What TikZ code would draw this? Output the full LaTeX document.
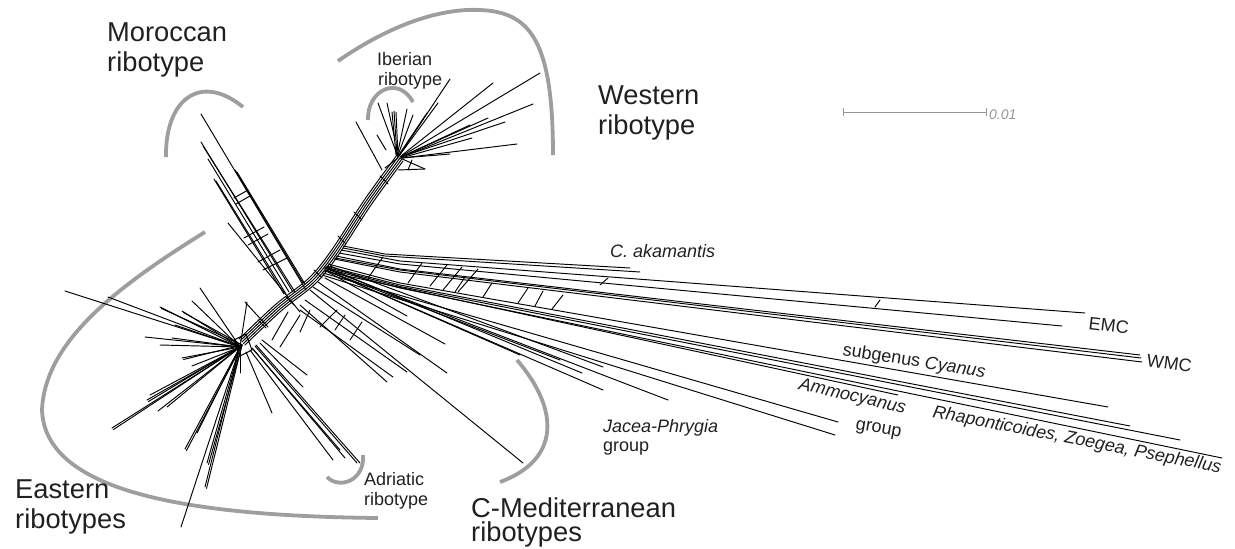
\documentclass[tikz,border=0pt]{standalone}
\usepackage{fontspec}
\setmainfont{Liberation Sans}
\definecolor{arcgray}{RGB}{158,158,160}
\definecolor{txt}{RGB}{35,31,32}
\definecolor{scalegray}{RGB}{150,150,150}
\begin{document}
\begin{tikzpicture}[x=1pt,y=-1pt,
  net/.style={line width=0.95pt,line cap=round},
  grayarc/.style={arcgray,line width=3.8pt},
  big/.style={font=\fontsize{27.3}{30}\selectfont,text=txt,inner sep=0pt,anchor=base west},
  small/.style={font=\fontsize{18}{20}\selectfont,text=txt,inner sep=0pt,anchor=base west}]
\useasboundingbox (0,0) rectangle (1235,549);

% ---------- grey arcs ----------
\draw[grayarc] (166,157) .. controls (165,100) and (200,72) .. (243,107);
\draw[grayarc] (338,61) .. controls (390,25) and (440,8) .. (480,10) .. controls (530,12) and (553,40) .. (553,155);
\draw[grayarc] (368,120) .. controls (367,90) and (398,75) .. (413,102);
\draw[grayarc] (205,232) .. controls (120,285) and (45,340) .. (42,410) .. controls (45,490) and (180,516) .. (378,518);
\draw[grayarc] (327,477) .. controls (340,490) and (365,480) .. (363,455);
\draw[grayarc] (517,360) .. controls (560,410) and (560,460) .. (500,482);

% ---------- central band (Eastern hub to Western hub) ----------
\foreach \k in {-3,-1.5,0,1.5,3}{
  \begin{scope}[shift={(\k,\k)}]
    \draw[net] plot[smooth] coordinates {(242,342) (278,308) (312,281) (334,254) (368,202) (400,158)};
  \end{scope}}
\foreach \p/\q in {262/324,290/301,318/274,342/240,358/216,384/180}
  \draw[net] (\p-4,\q-4) -- (\p+4,\q+4);

% ---------- Moroccan band ----------
\foreach \a/\b/\c/\d in {201/114/306/290, 201/142/293/292, 203/146/295/292, 208/159/289/292,
  214/179/284/294, 216/181/286/294, 235/170/303/283, 237/172/305/284, 228/223/300/312, 245/302/268/327}
  \draw[net] (\a,\b) -- (\c,\d);
\foreach \a/\b/\c/\d in {234/198/248/190, 236/204/250/196, 244/238/264/227, 248/245/268/234,
  258/262/280/250, 263/270/287/258, 272/340/288/312, 280/347/300/315}
  \draw[net] (\a,\b) -- (\c,\d);

% ---------- Western fan ----------
\foreach \a/\b/\c/\d in {400/157/540/73, 401/156/493/83, 402/157/533/104, 402/158/517/144,
  401/157/488/118, 401/158/472/138, 402/158/450/154, 399/156/450/79, 399/156/438/103,
  398/156/427/113, 398/155/413/115, 397/156/407/109, 396/155/392/112, 397/155/394/111,
  398/156/396/112, 398/157/378/103, 400/158/425/169, 401/157/505/122, 401/157/470/125,
  382/170/356/122, 386/150/377/135, 395/140/387/103, 398/170/425/169, 412/160/408/170,
  385/168/398/158}
  \draw[net] (\a,\b) -- (\c,\d);

% ---------- Eastern rays ----------
\foreach \c/\d in {65/291,108/297,160/307,182/311,192/301,200/288,145/337,172/338,182/358,
  192/366,147/400,158/411,167/407,112/428,185/449,207/463,205/487,181/527,247/302,240/373,
  197/433,175/325,160/345,150/395}
  \draw[net] (240,347) -- (\c,\d);
\foreach \c/\d in {160/307,182/311,182/358,147/400,185/449,207/463,205/487,112/428}
  \draw[net] (242,345) -- (\c+1.5,\d+1.5);
\draw[net] (234,340) -- (246,334) -- (252,350) -- (240,356) -- cycle;

% ---------- Adriatic bundle and lower-left branches ----------
\foreach \a/\b/\c/\d in {250/350/333/460, 252/348/340/450, 255/346/357/463, 256/345/360/463,
  253/349/345/458, 246/352/272/413, 262/340/307/375, 260/343/303/387}
  \draw[net] (\a,\b) -- (\c,\d);

% ---------- lower-right branches from the junction ----------
\foreach \a/\b/\c/\d in {313/287/420/355, 300/310/393/377, 305/300/407/372, 310/290/523/463,
  300/305/387/382, 318/282/447/373, 325/278/445/344, 328/272/407/316}
  \draw[net] (\a,\b) -- (\c,\d);
\foreach \a/\b/\c/\d in {300/332/310/310, 320/327/337/310, 335/330/345/315, 350/340/362/322}
  \draw[net] (\a,\b) -- (\c,\d);

% ---------- long branches to the right ----------
\draw[net] (343,246) -- (385,254) -- (630,268);
\draw[net] (343,248) -- (385,256) -- (640,272);
\foreach \a/\b/\m/\c/\d in {341/250/261/1085/313, 339/253/264/1062/326, 336/256/269/1140/355,
  334/259/272/1142/362, 335/258/270/1141/358, 328/264/283/1108/407, 326/266/285/1130/426,
  324/268/288/1222/458, 325/267/286.5/1180/440}
  \draw[net] (\a,\b) -- (400,\m) -- (\c,\d);
\foreach \a/\b/\c/\d in {330/266/603/367, 328/268/582/373, 326/270/603/390, 327/269/668/400,
  324/271/898/395, 323/273/838/422, 322/275/835/435, 326/270/520/355, 325/270/560/360}
  \draw[net] (\a,\b) -- (\c,\d);
\foreach \a/\b/\c/\d in {368/278/383/257, 408/283/422/263, 430/286/447/265, 443/290/462/267,
  455/292/465/277, 458/292/478/269, 483/297/492/283, 518/303/528/288, 535/306/543/291,
  552/309/563/295, 600/285/608/278, 875/307/880/300}
  \draw[net] (\a,\b) -- (\c,\d);

% ---------- labels ----------
\node[big] (mor1) at (107,41) {Moroccan};
\node[big] (mor2) at (107,71) {ribotype};
\node[big] (wes1) at (598,104) {Western};
\node[big] (wes2) at (598,134) {ribotype};
\node[big] (eas1) at (15,498) {Eastern};
\node[big] (eas2) at (15,528) {ribotypes};
\node[big] (cme1) at (471,517) {C-Mediterranean};
\node[big] (cme2) at (471,541) {ribotypes};
\node[small] (ibe1) at (377,65) {Iberian};
\node[small] (ibe2) at (378,85) {ribotype};
\node[small] (adr1) at (364,485) {Adriatic};
\node[small] (adr2) at (364,505) {ribotype};
\node[small] (jac1) at (603,432) {\itshape Jacea-Phrygia};
\node[small] (jac2) at (603,451) {group};
\node[small] (aka) at (610,257) {\itshape C. akamantis};
\node[small,rotate=-7] (emc) at (1088,329) {EMC};
\node[small,rotate=-8] (wmc) at (1146,366) {WMC};
\node[small,rotate=-9] (cya) at (842,355) {subgenus \itshape Cyanus};
\node[small,rotate=-13] (amm1) at (798,389) {\itshape Ammocyanus};
\node[small,rotate=-10] (amm2) at (855,429) {group};
\node[small,rotate=-11] (rha) at (932,417) {\itshape Rhaponticoides, Zoegea, Psephellus};

% ---------- scale bar ----------
\draw[scalegray,line width=1pt] (843,112) -- (986,112);
\draw[scalegray,line width=1pt] (843,108) -- (843,116);
\draw[scalegray,line width=1pt] (986,108) -- (986,116);
\node[inner sep=0pt,anchor=base west,text=scalegray,font=\fontsize{14}{16}\selectfont\itshape] (sc) at (989,119) {0.01};
\end{tikzpicture}
\end{document}
